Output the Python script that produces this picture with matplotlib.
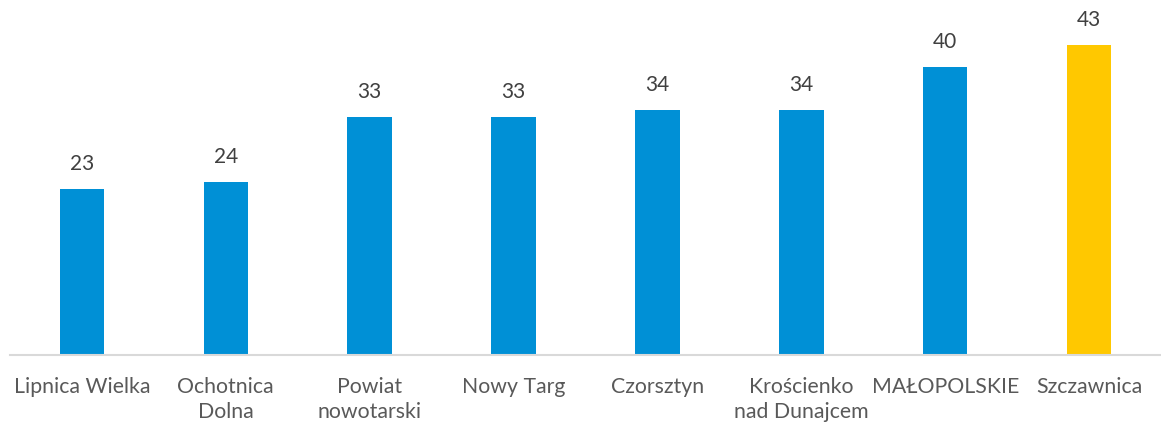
import matplotlib.pyplot as plt

categories = ['Lipnica Wielka', 'Ochotnica\nDolna', 'Powiat\nnowotarski', 'Nowy Targ',
              'Czorsztyn', 'Krościenko\nnad Dunajcem', 'MAŁOPOLSKIE', 'Szczawnica']
values = [23, 24, 33, 33, 34, 34, 40, 43]
colors = ['#0090D6'] * 7 + ['#FFC800']

plt.rcParams['font.family'] = ['Lato', 'DejaVu Sans']

fig = plt.figure(figsize=(11.61, 4.3), dpi=100)
ax = fig.add_axes([10 / 1161, 1 - 355 / 430, 1 - 10 / 1161, 355 / 430])

x = range(len(categories))
bars = ax.bar(x, values, width=0.31, color=colors)

for xi, v in zip(x, values):
    ax.annotate(str(v), (xi, v), xytext=(0, 18), textcoords='offset points',
                ha='center', va='center', fontsize=15, color='#404040')

ax.set_xlim(-0.5, len(categories) - 0.5)
ax.set_ylim(0, 49.3)
ax.set_xticks(list(x))
ax.set_xticklabels(categories, fontsize=15.3, color='#595959', linespacing=1.3, va='top')
ax.tick_params(axis='x', length=0, pad=16)
ax.set_yticks([])
for s in ['top', 'right', 'left']:
    ax.spines[s].set_visible(False)
ax.spines['bottom'].set_color('#D9D9D9')
ax.spines['bottom'].set_linewidth(1.5)

fig.savefig('out.png', dpi=100)
